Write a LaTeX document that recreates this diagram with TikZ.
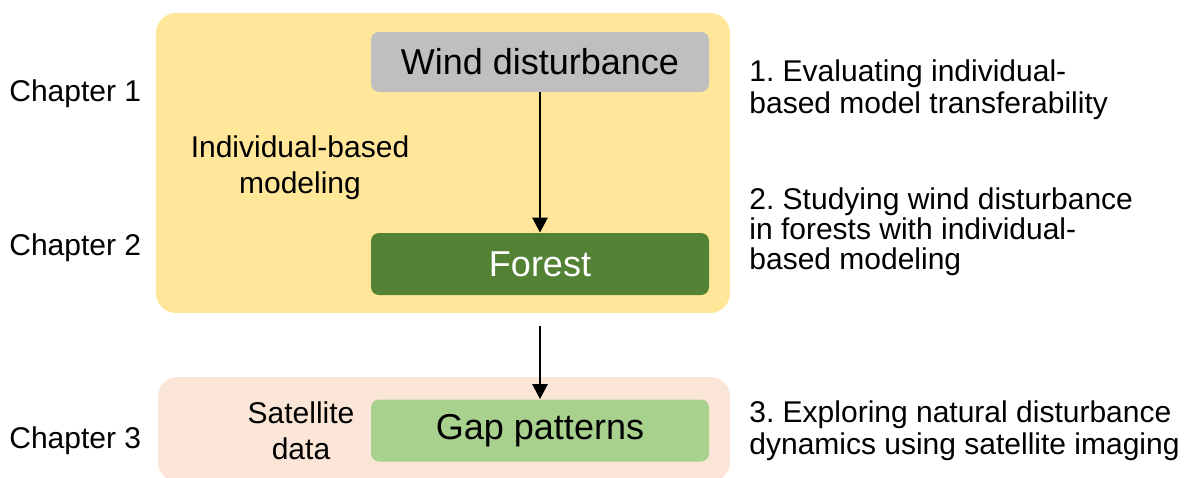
\documentclass[tikz,border=0pt]{standalone}
\usepackage{fontspec}
\setmainfont{Liberation Sans}
\usetikzlibrary{arrows.meta}
\definecolor{modelbg}{RGB}{255,230,153}
\definecolor{satbg}{RGB}{251,229,214}
\definecolor{windgray}{RGB}{191,191,191}
\definecolor{forestgreen}{RGB}{84,130,53}
\definecolor{gapgreen}{RGB}{169,209,142}
\frenchspacing

\begin{document}
\begin{tikzpicture}[x=0.5pt,y=-0.5pt,
  region/.style={rounded corners=10pt,inner sep=0pt},
  stage/.style={rounded corners=4pt,minimum width=169pt,minimum height=31pt,inner sep=0pt,font=\fontsize{18}{20}\selectfont},
  chapter/.style={anchor=base west,inner sep=0pt,font=\fontsize{15}{18}\selectfont},
  method/.style={align=center,inner sep=0pt,font=\fontsize{15}{18}\selectfont},
  aim/.style={anchor=west,align=left,inner sep=0pt},
  flow/.style={-{Triangle[length=7.5pt,width=7.5pt]},line width=1.3pt}]
  \useasboundingbox (0,0) rectangle (1200,477);
  \node[region,fill=modelbg,minimum width=287pt,minimum height=150pt] (ibm) at (443,163) {};
  \node[region,fill=satbg,minimum width=286pt,minimum height=52.5pt] (sat) at (444,429.5) {};
  \node[stage,fill=windgray,minimum height=30pt] (wind) at (540,62) {Wind disturbance};
  \node[stage,fill=forestgreen,text=white] (forest) at (540,264) {Forest};
  \node[stage,fill=gapgreen] (gap) at (540,430.5) {Gap patterns};
  \coordinate (split) at (540,326);
  \draw[flow] (wind) -- (forest);
  \draw[flow] (split) -- (gap);
  \node[method] (ibmlabel) at (300,167.5) {Individual-based\\modeling};
  \node[method] (satlabel) at (301,431) {Satellite\\data};
  \node[chapter] (ch1) at (9,101) {Chapter 1};
  \node[chapter] (ch2) at (9,255) {Chapter 2};
  \node[chapter] (ch3) at (9,448) {Chapter 3};
  \node[aim,font=\fontsize{15}{16}\selectfont] (aim1) at (749,90) {1. Evaluating individual-\\based model transferability};
  \node[aim,font=\fontsize{15}{15}\selectfont] (aim2) at (749,232) {2. Studying wind disturbance\\in forests with individual-\\based modeling};
  \node[aim,font=\fontsize{15}{16}\selectfont] (aim3) at (749,430.5) {3. Exploring natural disturbance\\dynamics using satellite imaging};
\end{tikzpicture}
\end{document}
